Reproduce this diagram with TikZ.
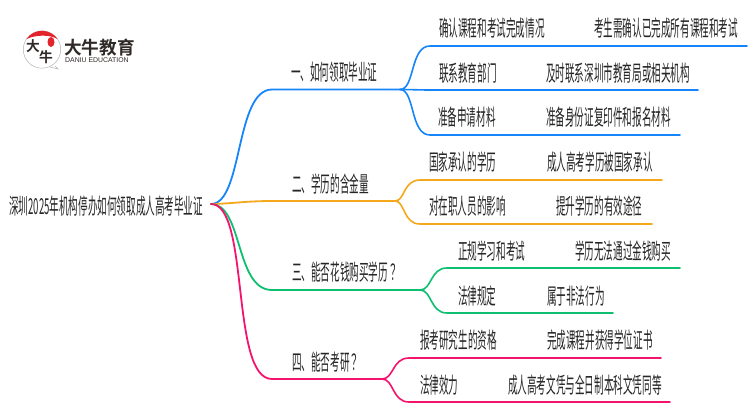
\documentclass[tikz,border=0pt]{standalone}
\usepackage{fontspec}
\newfontfamily\cjkthin[FakeStretch=0.436]{Noto Sans CJK SC}
\newfontfamily\cjkmark[FakeStretch=0.436]{Noto Sans CJK TC}
\newfontfamily\cjkbold[FakeStretch=0.98]{Noto Sans CJK SC Bold}
\newfontfamily\logolat{Liberation Sans}
\usetikzlibrary{calc}
\definecolor{bluebr}{HTML}{1685FB}
\definecolor{orangebr}{HTML}{F5A81C}
\definecolor{greenbr}{HTML}{0DBF6F}
\definecolor{pinkbr}{HTML}{F5136F}
\definecolor{logored}{HTML}{E3242B}
\definecolor{logoink}{HTML}{2F2A28}
\tikzset{txt/.style = {anchor=west,inner sep=0pt,text=black!85,font=\cjkthin\fontsize{22}{22}\selectfont}}
\tikzset{mainline/.style = {line width=1.8pt,line cap=round}}
\tikzset{leafline/.style = {line width=1.6pt,line cap=round}}

\begin{document}
\begin{tikzpicture}[x=1pt,y=-1pt]
\useasboundingbox (0,0) rectangle (750,410);

\coordinate (logoc) at (42,49.5);
\draw[black!30,line width=.5pt] (55,66) -- (58,69) -- (50,67);
\draw[black!30,fill=white,line width=.5pt] (logoc) circle (18.7);
\fill[logored] ($(logoc)+(-146:18.7)$) arc[start angle=-146,end angle=-34,radius=18.7] .. controls (50,34.5) and (36,34.5) .. cycle;
\fill[logored] (51,42) ellipse (3.5 and 5);
\node[anchor=center,inner sep=0pt,text=logoink,font=\cjkbold\fontsize{14}{14}\selectfont] (logoda) at (33,46) {大};
\node[anchor=center,inner sep=0pt,text=logoink,font=\cjkbold\fontsize{14}{14}\selectfont] (logoniu) at (46,57) {牛};
\node[anchor=west,inner sep=0pt,text=logoink,font=\cjkbold\fontsize{18}{18}\selectfont] (logoname) at (64,47.5) {大牛教育};
\node[anchor=west,inner sep=0pt,text=logoink,font=\logolat\fontsize{6.9}{7}\selectfont] (logoen) at (65,60.5) {DANIU EDUCATION};

\node[txt] (root) at (9,206) {深圳2025年机构停办如何领取成人高考毕业证};
\coordinate (rootr) at (211,204);

\node[txt] (one) at (291,72) {一、如何领取毕业证};
\node[txt] (two) at (292,184) {二、学历的含金量};
\node[txt] (three) at (292,272) {三、能否花钱购买学历{\cjkmark ？}};
\node[txt] (four) at (292,362) {四、能否考研{\cjkmark ？}};

\coordinate (onej) at (400,89.5);
\coordinate (twoj) at (395,201);
\coordinate (threej) at (420,290);
\coordinate (fourj) at (382,379);

\draw[mainline,bluebr] (rootr) .. controls (243,204) and (235,89.5) .. (272,89.5) -- (onej);
\draw[mainline,orangebr] (rootr) .. controls (228,204) and (245,201) .. (272,201) -- (twoj);
\draw[mainline,greenbr] (rootr) .. controls (243,204) and (235,290) .. (272,290) -- (threej);
\draw[mainline,pinkbr] (rootr) .. controls (250,204) and (230,379) .. (272,379) -- (fourj);

\node[txt] (a1) at (439,28) {确认课程和考试完成情况};
\node[txt] (a1v) at (594,28) {考生需确认已完成所有课程和考试};
\node[txt] (a2) at (439,73) {联系教育部门};
\node[txt] (a2v) at (546,73) {及时联系深圳市教育局或相关机构};
\node[txt] (a3) at (438,117) {准备申请材料};
\node[txt] (a3v) at (546,117) {准备身份证复印件和报名材料};
\coordinate (a1e) at (747,46);
\coordinate (a2e) at (698,90);
\coordinate (a3e) at (680,135);
\draw[leafline,bluebr] (onej) .. controls (415,89.5) and (410,46) .. (430,46) -- (a1e);
\draw[leafline,bluebr] (onej) .. controls (410,89.5) and (420,90) .. (430,90) -- (a2e);
\draw[leafline,bluebr] (onej) .. controls (415,89.5) and (410,135) .. (430,135) -- (a3e);

\node[txt] (b1) at (429,162) {国家承认的学历};
\node[txt] (b1v) at (547,162) {成人高考学历被国家承认};
\node[txt] (b2) at (429,206) {对在职人员的影响};
\node[txt] (b2v) at (556,206) {提升学历的有效途径};
\coordinate (b1e) at (662,180);
\coordinate (b2e) at (652,224);
\draw[leafline,orangebr] (twoj) .. controls (405,201) and (403,180) .. (420,180) -- (b1e);
\draw[leafline,orangebr] (twoj) .. controls (405,201) and (403,224) .. (420,224) -- (b2e);

\node[txt] (c1) at (458,251) {正规学习和考试};
\node[txt] (c1v) at (575,251) {学历无法通过金钱购买};
\node[txt] (c2) at (458,296) {法律规定};
\node[txt] (c2v) at (547,296) {属于非法行为};
\coordinate (c1e) at (680,268);
\coordinate (c2e) at (613,313);
\draw[leafline,greenbr] (threej) .. controls (432,290) and (430,268) .. (447,268) -- (c1e);
\draw[leafline,greenbr] (threej) .. controls (432,290) and (430,313) .. (447,313) -- (c2e);

\node[txt] (d1) at (420,340) {报考研究生的资格};
\node[txt] (d1v) at (547,340) {完成课程并获得学位证书};
\node[txt] (d2) at (420,385) {法律效力};
\node[txt] (d2v) at (508,385) {成人高考文凭与全日制本科文凭同等};
\coordinate (d1e) at (661,358);
\coordinate (d2e) at (670,402);
\draw[leafline,pinkbr] (fourj) .. controls (394,379) and (392,358) .. (409,358) -- (d1e);
\draw[leafline,pinkbr] (fourj) .. controls (394,379) and (392,402) .. (409,402) -- (d2e);
\end{tikzpicture}
\end{document}
